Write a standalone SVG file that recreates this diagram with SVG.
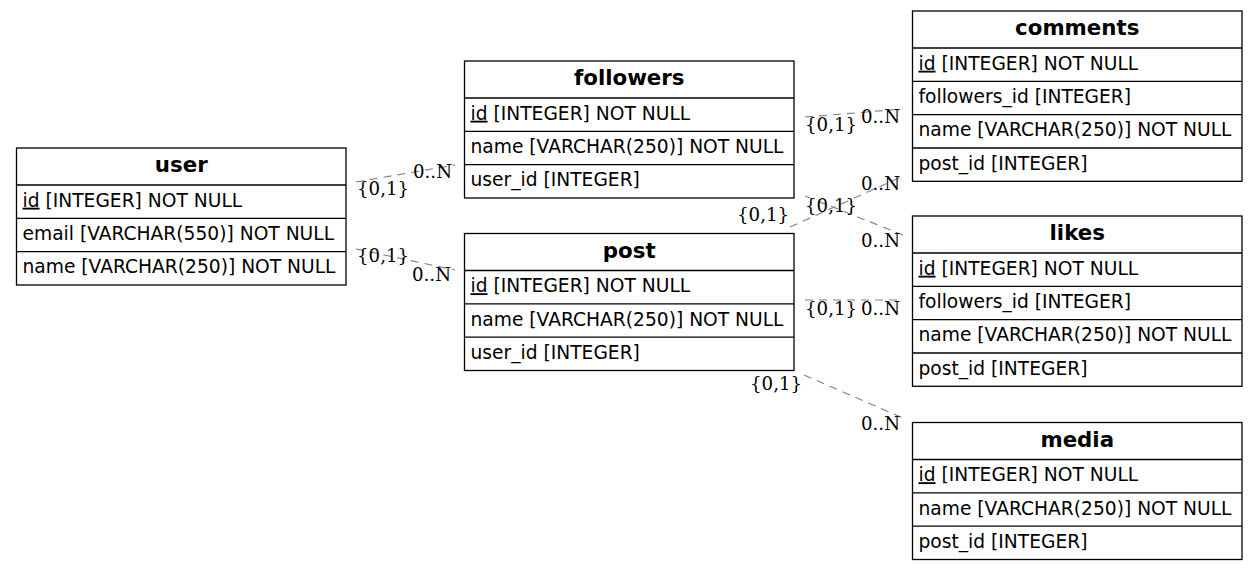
<svg xmlns="http://www.w3.org/2000/svg" width="1257" height="570" viewBox="0 0 1257 570">
<style>
.box{fill:#fff;stroke:#000;stroke-width:1.3}
.sep{stroke:#000;stroke-width:1.3}
.hd{font-family:"DejaVu Sans",sans-serif;font-weight:bold;font-size:21.33px;text-anchor:middle;fill:#000}
.rw{font-family:"DejaVu Sans",sans-serif;font-size:18.67px;fill:#000}
.pk{text-decoration:underline}
.edge{fill:none;stroke:#808080;stroke-width:1.1;stroke-dasharray:8,6}
.lb{font-family:"DejaVu Serif",serif;font-size:18.2px;fill:#000}
</style>
<rect width="1257" height="570" fill="#fff"/>
<g id="connectors">
<path class="edge" d="M356,182 L455,165"/>
<path class="edge" d="M356,249 L455,270"/>
<path class="edge" d="M805,117 L903,109"/>
<path class="edge" d="M805,196 L903,235"/>
<path class="edge" d="M790,227 L903,176"/>
<path class="edge" d="M805,300 L903,300"/>
<path class="edge" d="M804,375 L903,418"/>
<text class="lb" x="357" y="195">{0,1}</text>
<text class="lb" x="413" y="178">0..N</text>
<text class="lb" x="357" y="262">{0,1}</text>
<text class="lb" x="412" y="281">0..N</text>
<text class="lb" x="805" y="131">{0,1}</text>
<text class="lb" x="861" y="123">0..N</text>
<text class="lb" x="805" y="212">{0,1}</text>
<text class="lb" x="861" y="247">0..N</text>
<text class="lb" x="737" y="221">{0,1}</text>
<text class="lb" x="861" y="190">0..N</text>
<text class="lb" x="805" y="315">{0,1}</text>
<text class="lb" x="861" y="315">0..N</text>
<text class="lb" x="750" y="390">{0,1}</text>
<text class="lb" x="861" y="430">0..N</text>
</g>
<g id="user" transform="translate(16.5,148)">
<rect class="box" width="329.5" height="137"/>
<line class="sep" x1="0" y1="37" x2="329.5" y2="37"/>
<line class="sep" x1="0" y1="70.3" x2="329.5" y2="70.3"/>
<line class="sep" x1="0" y1="103.7" x2="329.5" y2="103.7"/>
<text class="hd" x="164.75" y="24">user</text>
<text class="rw" x="6" y="58.7"><tspan class="pk">id</tspan> [INTEGER] NOT NULL</text>
<text class="rw" x="6" y="92">email [VARCHAR(550)] NOT NULL</text>
<text class="rw" x="6" y="125.4">name [VARCHAR(250)] NOT NULL</text>
</g>
<g id="followers" transform="translate(464.5,61)">
<rect class="box" width="329.5" height="137"/>
<line class="sep" x1="0" y1="37" x2="329.5" y2="37"/>
<line class="sep" x1="0" y1="70.3" x2="329.5" y2="70.3"/>
<line class="sep" x1="0" y1="103.7" x2="329.5" y2="103.7"/>
<text class="hd" x="164.75" y="24">followers</text>
<text class="rw" x="6" y="58.7"><tspan class="pk">id</tspan> [INTEGER] NOT NULL</text>
<text class="rw" x="6" y="92">name [VARCHAR(250)] NOT NULL</text>
<text class="rw" x="6" y="125.4">user_id [INTEGER]</text>
</g>
<g id="post" transform="translate(464.5,233.5)">
<rect class="box" width="329.5" height="137"/>
<line class="sep" x1="0" y1="37" x2="329.5" y2="37"/>
<line class="sep" x1="0" y1="70.3" x2="329.5" y2="70.3"/>
<line class="sep" x1="0" y1="103.7" x2="329.5" y2="103.7"/>
<text class="hd" x="164.75" y="24">post</text>
<text class="rw" x="6" y="58.7"><tspan class="pk">id</tspan> [INTEGER] NOT NULL</text>
<text class="rw" x="6" y="92">name [VARCHAR(250)] NOT NULL</text>
<text class="rw" x="6" y="125.4">user_id [INTEGER]</text>
</g>
<g id="comments" transform="translate(912.5,11)">
<rect class="box" width="329.5" height="170.3"/>
<line class="sep" x1="0" y1="37" x2="329.5" y2="37"/>
<line class="sep" x1="0" y1="70.3" x2="329.5" y2="70.3"/>
<line class="sep" x1="0" y1="103.7" x2="329.5" y2="103.7"/>
<line class="sep" x1="0" y1="137" x2="329.5" y2="137"/>
<text class="hd" x="164.75" y="24">comments</text>
<text class="rw" x="6" y="58.7"><tspan class="pk">id</tspan> [INTEGER] NOT NULL</text>
<text class="rw" x="6" y="92">followers_id [INTEGER]</text>
<text class="rw" x="6" y="125.4">name [VARCHAR(250)] NOT NULL</text>
<text class="rw" x="6" y="158.7">post_id [INTEGER]</text>
</g>
<g id="likes" transform="translate(912.5,216)">
<rect class="box" width="329.5" height="170.3"/>
<line class="sep" x1="0" y1="37" x2="329.5" y2="37"/>
<line class="sep" x1="0" y1="70.3" x2="329.5" y2="70.3"/>
<line class="sep" x1="0" y1="103.7" x2="329.5" y2="103.7"/>
<line class="sep" x1="0" y1="137" x2="329.5" y2="137"/>
<text class="hd" x="164.75" y="24">likes</text>
<text class="rw" x="6" y="58.7"><tspan class="pk">id</tspan> [INTEGER] NOT NULL</text>
<text class="rw" x="6" y="92">followers_id [INTEGER]</text>
<text class="rw" x="6" y="125.4">name [VARCHAR(250)] NOT NULL</text>
<text class="rw" x="6" y="158.7">post_id [INTEGER]</text>
</g>
<g id="media" transform="translate(912.5,422.5)">
<rect class="box" width="329.5" height="137"/>
<line class="sep" x1="0" y1="37" x2="329.5" y2="37"/>
<line class="sep" x1="0" y1="70.3" x2="329.5" y2="70.3"/>
<line class="sep" x1="0" y1="103.7" x2="329.5" y2="103.7"/>
<text class="hd" x="164.75" y="24">media</text>
<text class="rw" x="6" y="58.7"><tspan class="pk">id</tspan> [INTEGER] NOT NULL</text>
<text class="rw" x="6" y="92">name [VARCHAR(250)] NOT NULL</text>
<text class="rw" x="6" y="125.4">post_id [INTEGER]</text>
</g>
</svg>
